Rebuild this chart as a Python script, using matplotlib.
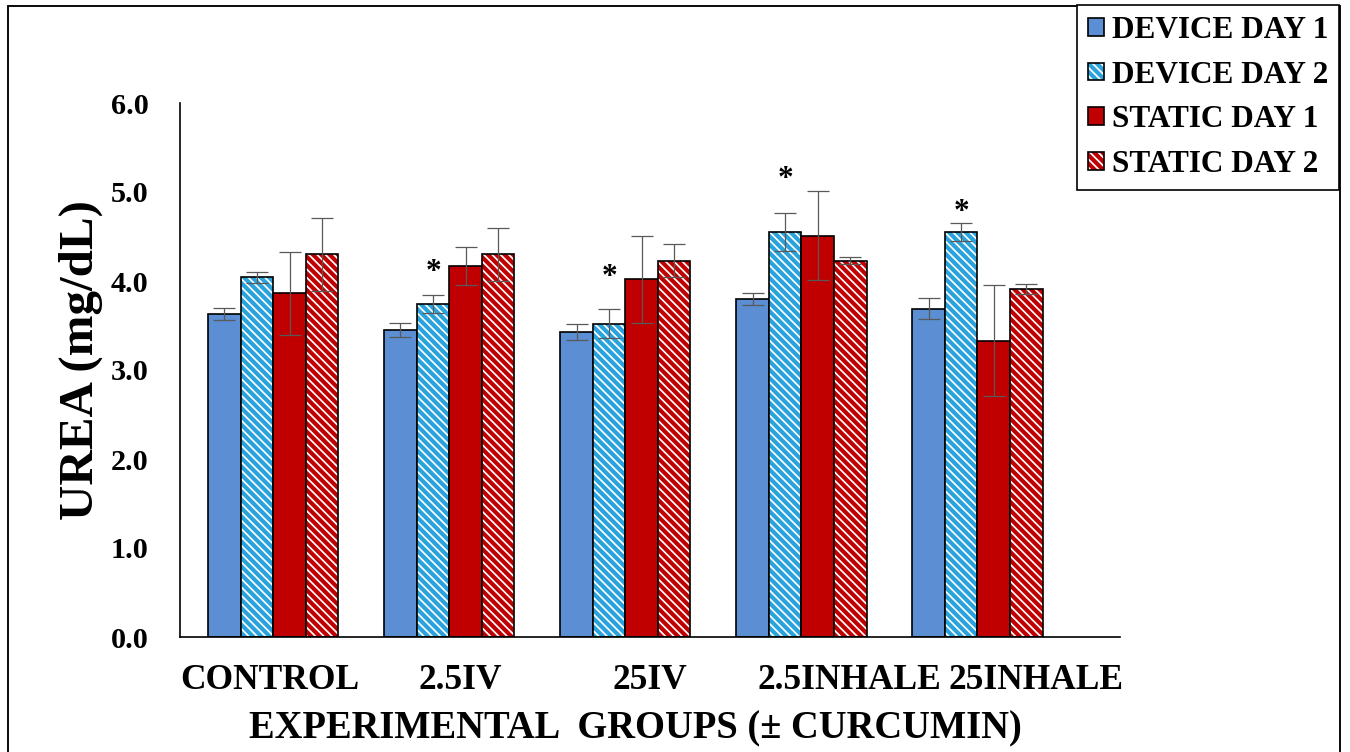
import matplotlib
matplotlib.use("Agg")
import matplotlib.pyplot as plt
from matplotlib.patches import Patch, Rectangle
from matplotlib.legend_handler import HandlerTuple
import numpy as np

# data
groups = ["CONTROL", "2.5IV", "25IV", "2.5INHALE", "25INHALE"]
series = ["DEVICE DAY 1", "DEVICE DAY 2", "STATIC DAY 1", "STATIC DAY 2"]

device_day1 = [3.63, 3.45, 3.43, 3.80, 3.69]
device_day2 = [4.04, 3.74, 3.52, 4.55, 4.55]
static_day1 = [3.86, 4.17, 4.02, 4.51, 3.33]
static_day2 = [4.30, 4.30, 4.23, 4.23, 3.91]

device_day1_err = [0.07, 0.08, 0.09, 0.07, 0.12]
device_day2_err = [0.06, 0.10, 0.16, 0.21, 0.10]
static_day1_err = [0.47, 0.21, 0.49, 0.50, 0.62]
static_day2_err = [0.41, 0.30, 0.19, 0.04, 0.06]

# significance stars (on DEVICE DAY 2 bars) and their heights
star_groups = [1, 2, 3, 4]
star_y = [4.18, 4.12, 5.22, 4.85]

values = [device_day1, device_day2, static_day1, static_day2]
errors = [device_day1_err, device_day2_err, static_day1_err, static_day2_err]

plt.rcParams['font.family'] = ['Liberation Serif', 'DejaVu Serif']
plt.rcParams['font.weight'] = 'bold'
plt.rcParams['hatch.linewidth'] = 2.0

blue = "#5b8ed2"
cyan = "#2aa3dc"
red = "#c00000"
stripes = "\\" * 6
styles = [
    dict(color=blue, hatch=None),
    dict(color=cyan, hatch=stripes),
    dict(color=red, hatch=None),
    dict(color=red, hatch=stripes),
]

fig = plt.figure(figsize=(9, 752 / 150), dpi=150)
ax = fig.add_axes([180 / 1350, 1 - 637 / 752, 940 / 1350, 534 / 752])

x = np.arange(len(groups))
width = 0.185
offsets = (np.arange(4) - 1.5) * width

for vals, errs, st, off in zip(values, errors, styles, offsets):
    if st["hatch"] is None:
        ax.bar(x + off, vals, width, color=st["color"], edgecolor="black",
               linewidth=0.8, zorder=2)
    else:
        ax.bar(x + off, vals, width, facecolor="white", edgecolor=st["color"],
               hatch=st["hatch"], linewidth=0, zorder=2)
        ax.bar(x + off, vals, width, fill=False, edgecolor="black",
               linewidth=0.8, zorder=3)
    ax.errorbar(x + off, vals, yerr=errs, fmt="none", ecolor="#595959",
                elinewidth=0.6, capsize=5.5, capthick=0.6, zorder=4)

for g, sy in zip(star_groups, star_y):
    ax.text(x[g] + offsets[1], sy - 0.08, "*", ha="center", va="center",
            fontsize=15, fontweight="bold")

ax.set_ylim(0, 6)
ax.set_xlim(-0.53, 4.81)
ax.set_yticks(np.arange(0, 6.1, 1.0))
ax.set_yticklabels([f"{v:.1f}" for v in np.arange(0, 6.1, 1.0)])
# category labels sit slightly off the group centres in the original
ax.set_xticks(x + np.array([-0.02, 0.06, 0.14, 0.27, 0.33]))
ax.set_xticklabels(groups)
ax.tick_params(axis="y", length=0, pad=15, labelsize=14.5)
ax.tick_params(axis="x", length=0, pad=13, labelsize=17)
for s in ["top", "right"]:
    ax.spines[s].set_visible(False)
for s in ["left", "bottom"]:
    ax.spines[s].set_linewidth(0.8)

ax.set_ylabel("UREA (mg/dL)", fontsize=23.5, fontweight="bold")
ax.yaxis.set_label_coords(-0.082, 0.519)
ax.set_xlabel("EXPERIMENTAL  GROUPS (± CURCUMIN)", fontsize=18.5,
              fontweight="bold")
ax.xaxis.set_label_coords(0.484, -0.138)

# legend handles: hatched patch with a black outline on top
handles = []
for st in styles:
    if st["hatch"] is None:
        handles.append(Patch(facecolor=st["color"], edgecolor="black", linewidth=0.8))
    else:
        h1 = Patch(facecolor="white", edgecolor=st["color"], hatch=st["hatch"], linewidth=0)
        h2 = Patch(fill=False, edgecolor="black", linewidth=0.8)
        handles.append((h1, h2))

leg = fig.legend(handles, series, loc="upper right",
                 bbox_to_anchor=(1339 / 1350, 1 - 5 / 752),
                 handler_map={tuple: HandlerTuple(ndivide=1)},
                 fontsize=15, frameon=True, fancybox=False, framealpha=1,
                 edgecolor="black", handlelength=0.5, handleheight=0.5,
                 handletextpad=0.25, labelspacing=0.5, borderpad=0.35,
                 borderaxespad=0)
leg.get_frame().set_linewidth(0.8)

# outer border of the figure
fig.patches.append(Rectangle((8 / 1350, -0.02), 1332 / 1350, 1 - 6 / 752 + 0.02,
                             transform=fig.transFigure, fill=False,
                             edgecolor="black", linewidth=0.9, zorder=0))

fig.savefig("out.png", dpi=150)
